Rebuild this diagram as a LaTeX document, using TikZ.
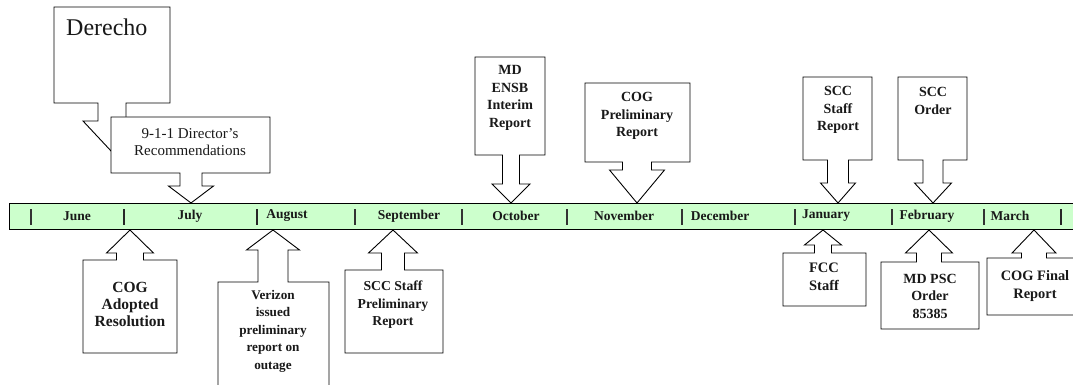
\documentclass[tikz,border=0pt]{standalone}
\usepackage{fontspec}
\setmainfont{Liberation Serif}
\usetikzlibrary{positioning}

% box with a block arrow: left, right, far edge, arrow edge, tip x, tip y, neck y, stem half, wing half
\newcommand\calloutbox[9]{%
  \draw[callout] (#1,#3) -- (#2,#3) -- (#2,#4) -- ({#5+#8},#4) -- ({#5+#8},#7) -- ({#5+#9},#7)
    -- (#5,#6) -- ({#5-#9},#7) -- ({#5-#8},#7) -- ({#5-#8},#4) -- (#1,#4) -- cycle;}

\begin{document}
\begin{tikzpicture}[x=1pt, y=-1pt, line join=miter,
  every node/.style = {inner sep=0pt, align=center, text=black!90},
  callout/.style = {draw, fill=white, line width=0.9pt},
  month/.style = {font=\fontsize{13.5}{16}\selectfont\bfseries},
  note/.style = {font=\fontsize{14}{17.5}\selectfont\bfseries},
  tick/.style = {line width=1.1pt, draw=black!80},
  bigtick/.style = {line width=2.6pt, draw=black!85}]
  \useasboundingbox (0,0) rectangle (1073,385);

  % timeline
  \draw[fill=green!20, line width=0.9pt] (9,203) rectangle (1085,229);
  \foreach \x in {31,355,462,567,682,795,892,984}
    \draw[tick] (\x,209) -- (\x,225);
  \foreach \x in {124,257,1061}
    \draw[bigtick] (\x,209) -- (\x,225);
  \node[month] (jun) at (77,216) {June};
  \node[month] (jul) at (190,216) {July};
  \node[month] (aug) at (287,216) {August};
  \node[month] (sep) at (409,216) {September};
  \node[month] (oct) at (516,216) {October};
  \node[month] (nov) at (624,216) {November};
  \node[month] (dec) at (720,216) {December};
  \node[month] (jan) at (826,216) {January};
  \node[month] (feb) at (927,216) {February};
  \node[month] (mar) at (1010,216) {March};

  % above the line
  \calloutbox{54}{170}{7}{103}{112}{152}{121}{14}{29}
  \node[anchor=base west, font=\fontsize{24}{28}\selectfont] (derecho) at (66,36) {Derecho};
  \calloutbox{111}{270}{117}{173}{191}{203}{186}{11}{22.5}
  \node[font=\fontsize{15}{17}\selectfont] (dirrec) at (190,142) {9-1-1 Director's\\Recommendations};
  \calloutbox{475}{545}{57}{155}{511}{203}{184}{8.5}{19}
  \node[note] (ensb) at (510,98) {MD\\ENSB\\Interim\\Report};
  \calloutbox{585}{690}{83}{162}{637}{203}{170}{14.5}{27.5}
  \node[note] (cogpre) at (637,116) {COG\\Preliminary\\Report};
  \calloutbox{803}{872}{77}{160}{838}{203}{183}{10.5}{17.5}
  \node[note] (sccrep) at (838,110) {SCC\\Staff\\Report};
  \calloutbox{898}{967}{77}{160}{933}{203}{183}{10}{18.5}
  \node[note] (sccord) at (933,101) {SCC\\Order};

  % below the line
  \calloutbox{83}{177}{353}{260}{130}{230}{253}{13.5}{23.5}
  \node[note, font=\fontsize{15.5}{17}\selectfont\bfseries] (cogres) at (130,304) {COG\\Adopted\\Resolution};
  \calloutbox{218}{329}{395}{282}{273}{230}{250}{15}{26.5}
  \node[note, font=\fontsize{13.2}{17.5}\selectfont\bfseries] (verizon) at (273,331) {Verizon\\issued\\preliminary\\report on\\outage};
  \calloutbox{345}{443}{353}{270}{393}{230}{253}{11.5}{24.5}
  \node[note, font=\fontsize{13.7}{17.5}\selectfont\bfseries] (sccpre) at (393,305) {SCC Staff\\Preliminary\\Report};
  \calloutbox{783}{866}{306}{253}{823}{230}{245}{8.5}{18.5}
  \node[note, font=\fontsize{14.5}{17.5}\selectfont\bfseries] (fcc) at (824,277) {FCC\\Staff};
  \calloutbox{881}{979}{329}{262}{929}{230}{253}{12.5}{23.5}
  \node[note] (mdpsc) at (930,296) {MD PSC\\Order\\85385};
  \calloutbox{987}{1090}{315}{258}{1034}{230}{253}{12.5}{22}
  \node[note, font=\fontsize{14.4}{17.5}\selectfont\bfseries] (cogfin) at (1035,286) {COG Final\\Report};
\end{tikzpicture}
\end{document}
